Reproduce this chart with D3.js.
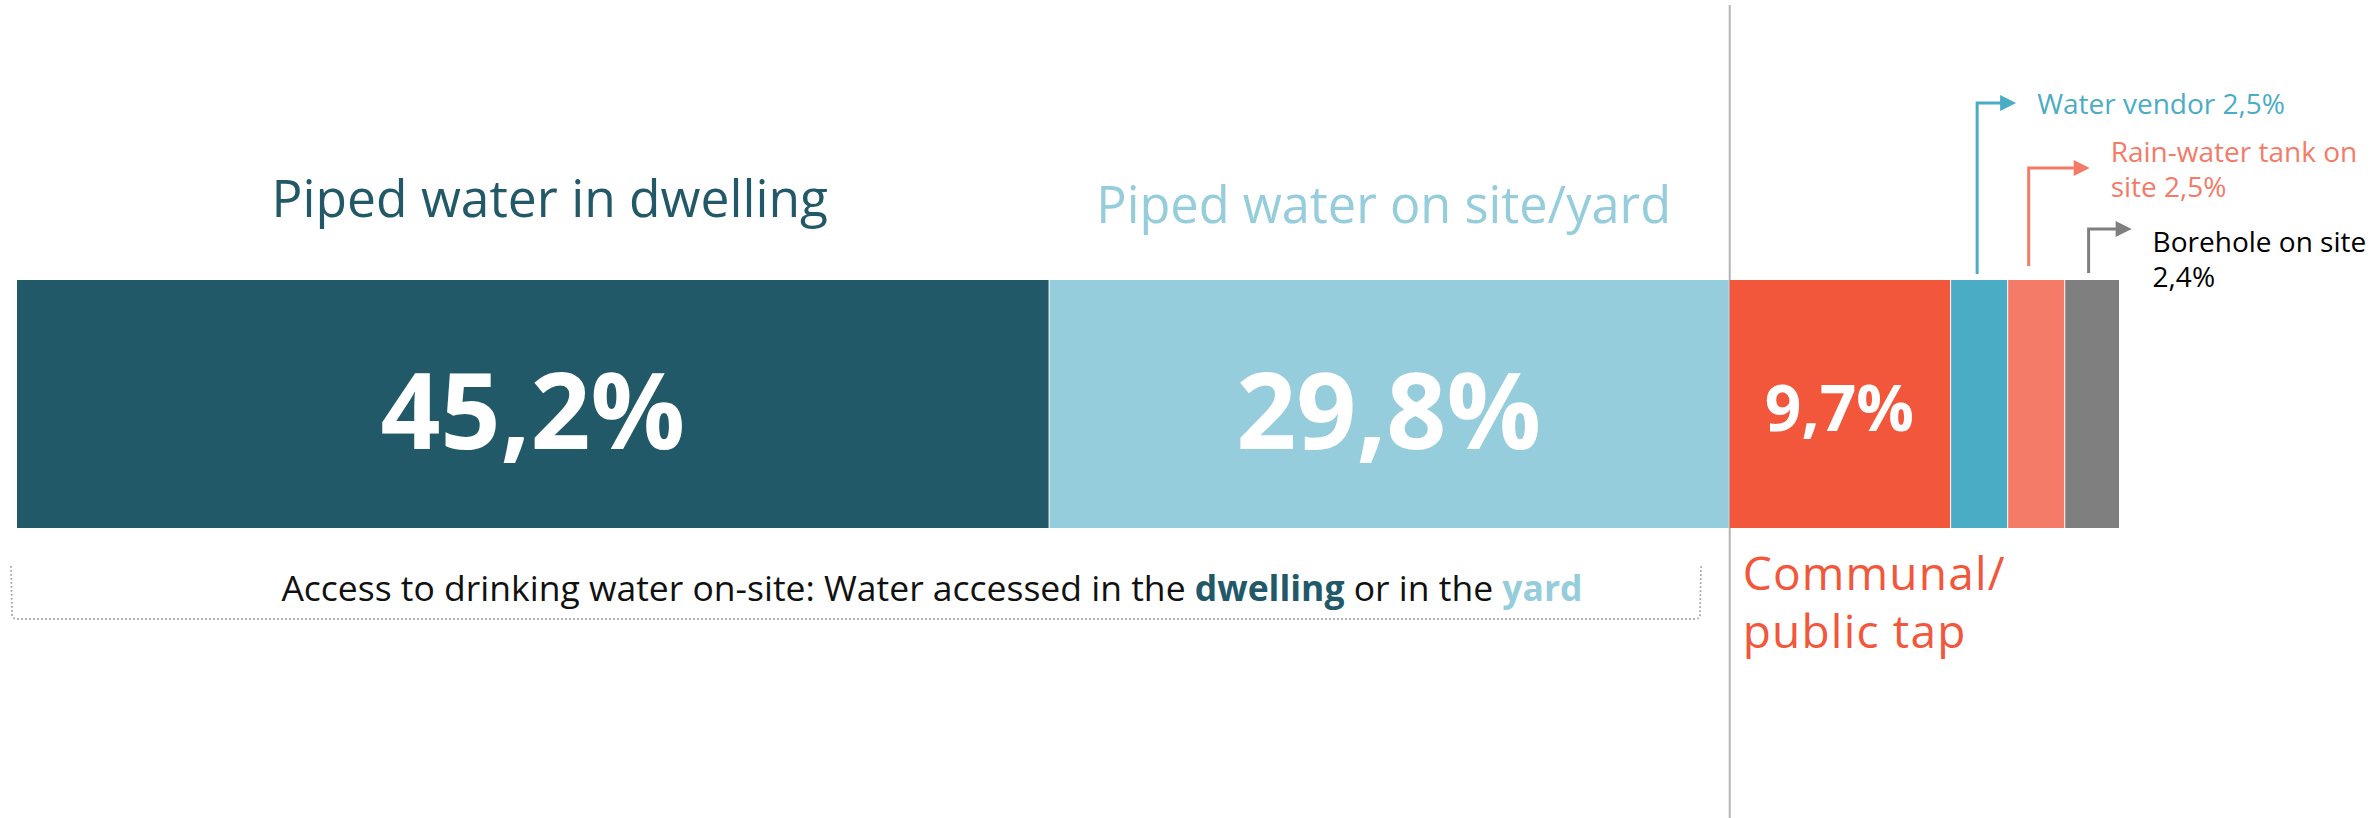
<!DOCTYPE html>
<html>
<head>
<meta charset="utf-8">
<script src="https://cdn.jsdelivr.net/npm/d3@7"></script>
<style>
  html, body { margin: 0; padding: 0; background: #ffffff; }
  svg { display: block; font-family: "Open Sans", "Noto Sans", sans-serif; }
</style>
</head>
<body>
<svg id="chart" width="2371" height="818"></svg>
<script>
// ---- data ----
const categories = ["Piped water in dwelling", "Piped water on site/yard", "Communal/public tap", "Water vendor", "Rain-water tank on site", "Borehole on site"];
const values = [45.2, 29.8, 9.7, 2.5, 2.5, 2.4];
const valueLabels = ["45,2%", "29,8%", "9,7%", "2,5%", "2,5%", "2,4%"];
const colors = ["#225968", "#96CDDD", "#F2573C", "#4BACC6", "#F47B67", "#7F7F7F"];
const bottomNoteParts = [
  { text: "Access to drinking water on-site: Water accessed in the ", bold: false, color: "#111111" },
  { text: "dwelling", bold: true, color: "#225968" },
  { text: " or in the ", bold: false, color: "#111111" },
  { text: "yard", bold: true, color: "#96CDDD" }
];

// ---- layout ----
const svg = d3.select("#chart");
const total = d3.sum(values);
const x = d3.scaleLinear().domain([0, total]).range([17, 2119]);
const barTop = 280, barBottom = 528;
const y = d3.scaleLinear().domain([0, 1]).range([barBottom, barTop]);

const starts = [];
values.reduce((acc, v) => { starts.push(acc); return acc + v; }, 0);
const segs = values.map((v, i) => ({
  i, v, name: categories[i], label: valueLabels[i], color: colors[i],
  x0: x(starts[i]), x1: x(starts[i] + v), cx: (x(starts[i]) + x(starts[i] + v)) / 2
}));

// vertical divider
const divX = x(values[0] + values[1]) + 1;
svg.append("line")
  .attr("x1", divX).attr("x2", divX)
  .attr("y1", 5).attr("y2", 818)
  .attr("stroke", "#B4B4B4").attr("stroke-width", 2);

// bars
svg.selectAll("rect.seg").data(segs).enter().append("rect")
  .attr("class", "seg")
  .attr("x", d => d.x0 + (d.i === 0 ? 0 : 1))
  .attr("y", y(1))
  .attr("width", d => d.x1 - d.x0 - (d.i === 0 ? 0 : 1))
  .attr("height", y(0) - y(1))
  .attr("fill", d => d.color);

// big value labels
const bigSizes = [105, 105, 64];
const bigBase = [449, 449, 431];
segs.slice(0, 3).forEach((d, k) => {
  svg.append("text")
    .attr("x", d.cx)
    .attr("y", bigBase[k])
    .attr("text-anchor", "middle")
    .attr("font-size", bigSizes[k])
    .attr("font-weight", 700)
    .attr("fill", "#ffffff")
    .text(d.label);
});

// titles over the two big segments
svg.append("text")
  .attr("x", segs[0].cx + 17).attr("y", 217)
  .attr("text-anchor", "middle").attr("font-size", 51.5)
  .attr("fill", colors[0]).text(categories[0]);
svg.append("text")
  .attr("x", segs[1].cx - 5).attr("y", 223)
  .attr("text-anchor", "middle").attr("font-size", 50.5)
  .attr("fill", colors[1]).text(categories[1]);

// Communal / public tap label
const commParts = ["Communal/", "public tap"];
svg.append("text")
  .attr("x", segs[2].x0 + 14).attr("y", 590)
  .attr("font-size", 46).attr("letter-spacing", 1.2).attr("fill", colors[2])
  .selectAll("tspan").data(commParts).enter().append("tspan")
  .attr("x", segs[2].x0 + 14)
  .attr("dy", (d, i) => i === 0 ? 0 : 58)
  .text(d => d);

// bracket under the on-site segments
const bx0 = 11, bx1 = 1701, byTop = 566, byBot = 619;
svg.append("path")
  .attr("d", `M${bx0},${byTop} L${bx0 + 1},${byBot - 4} Q${bx0 + 2},${byBot} ${bx0 + 6},${byBot} L${bx1 - 6},${byBot} Q${bx1 - 1},${byBot} ${bx1 - 1},${byBot - 4} L${bx1},${byTop}`)
  .attr("fill", "none").attr("stroke", "#A8A8A8")
  .attr("stroke-width", 1.8).attr("stroke-dasharray", "1.8,2.2");

// bottom note
const note = svg.append("text")
  .attr("x", 932).attr("y", 601)
  .attr("text-anchor", "middle").attr("font-size", 35.5);
note.selectAll("tspan").data(bottomNoteParts).enter().append("tspan")
  .attr("font-weight", d => d.bold ? 700 : 400)
  .attr("fill", d => d.color)
  .text(d => d);
note.selectAll("tspan").text(d => d.text);

// small-segment callouts with elbow arrows
const callouts = [
  { seg: 3, dx: -1.5, run: 24, elbowY: 103, baseY: 274, textDy: 11, lines: ["Water vendor 2,5%"], color: "#4BACC6", textColor: "#4BACC6" },
  { seg: 4, dx: -7, run: 46, elbowY: 168, baseY: 266, textDy: -6, lines: ["Rain-water tank on", "site 2,5%"], color: "#F47B67", textColor: "#F47B67" },
  { seg: 5, dx: -3, run: 28, elbowY: 229, baseY: 273, textDy: 23, lines: ["Borehole on site", "2,4%"], color: "#7F7F7F", textColor: "#000000" }
];
callouts.forEach(c => {
  const lx = segs[c.seg].cx + c.dx;
  const hx = lx + c.run, tip = hx + 15;
  svg.append("path")
    .attr("d", `M${lx},${c.baseY} L${lx},${c.elbowY} L${hx},${c.elbowY}`)
    .attr("fill", "none").attr("stroke", c.color).attr("stroke-width", 3);
  svg.append("path")
    .attr("d", `M${hx - 1},${c.elbowY - 8} L${tip},${c.elbowY} L${hx - 1},${c.elbowY + 8} Z`)
    .attr("fill", c.color);
  const t = svg.append("text")
    .attr("x", tip + 21).attr("y", c.elbowY + c.textDy)
    .attr("font-size", 28).attr("fill", c.textColor);
  t.selectAll("tspan").data(c.lines).enter().append("tspan")
    .attr("x", tip + 21)
    .attr("dy", (d, i) => i === 0 ? 0 : 35)
    .text(d => d);
});
</script>
</body>
</html>
